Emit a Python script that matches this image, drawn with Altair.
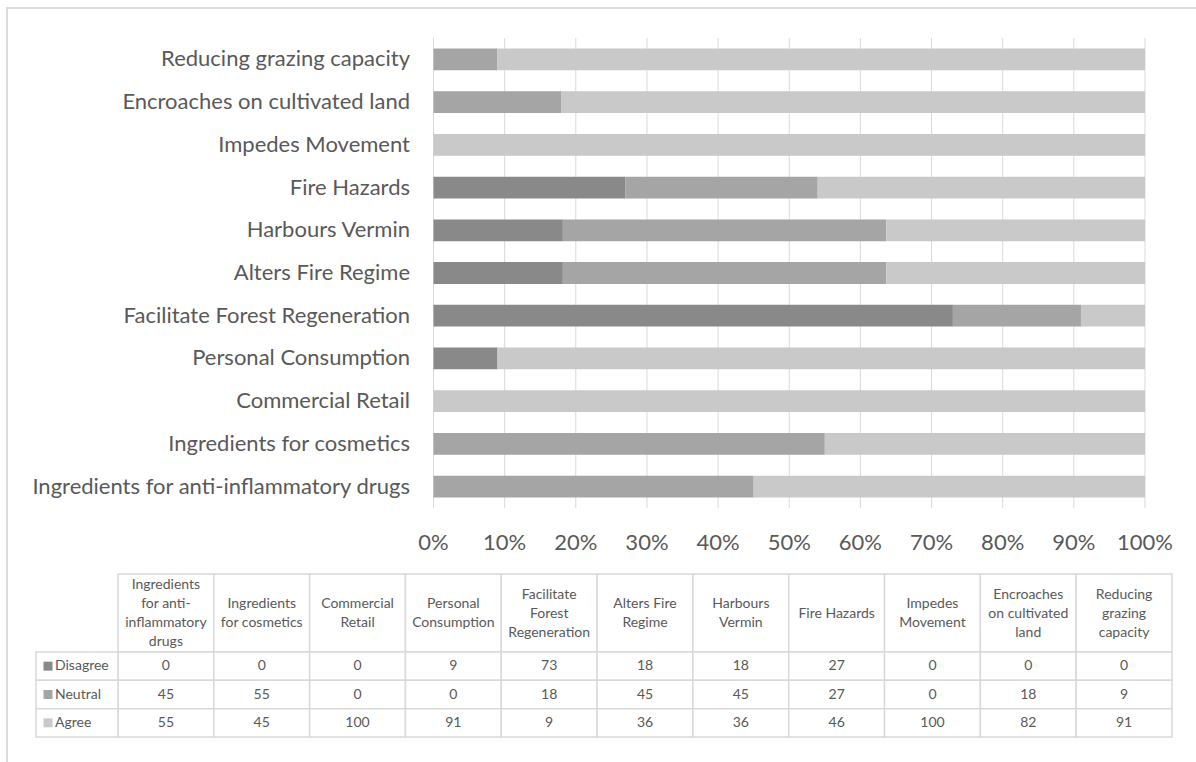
import altair as alt
import pandas as pd

# Survey statements (bottom-to-top order of the bars, left-to-right order of the table)
categories = [
    "Ingredients for anti-inflammatory drugs",
    "Ingredients for cosmetics",
    "Commercial Retail",
    "Personal Consumption",
    "Facilitate Forest Regeneration",
    "Alters Fire Regime",
    "Harbours Vermin",
    "Fire Hazards",
    "Impedes Movement",
    "Encroaches on cultivated land",
    "Reducing grazing capacity",
]

# Wrapped column headings for the data table
header_labels = [
    "Ingredients\nfor anti-\ninflammatory\ndrugs",
    "Ingredients\nfor cosmetics",
    "Commercial\nRetail",
    "Personal\nConsumption",
    "Facilitate\nForest\nRegeneration",
    "Alters Fire\nRegime",
    "Harbours\nVermin",
    "Fire Hazards",
    "Impedes\nMovement",
    "Encroaches\non cultivated\nland",
    "Reducing\ngrazing\ncapacity",
]

responses = ["Disagree", "Neutral", "Agree"]
disagree = [0, 0, 0, 9, 73, 18, 18, 27, 0, 0, 0]
neutral = [45, 55, 0, 0, 18, 45, 45, 27, 0, 18, 9]
agree = [55, 45, 100, 91, 9, 36, 36, 46, 100, 82, 91]

ticks = [0.0, 0.1, 0.2, 0.3, 0.4, 0.5, 0.6, 0.7, 0.8, 0.9, 1.0]

palette = ["#898989", "#a5a5a5", "#c9c9c9"]
FONT = "Lato"
TEXT = "#595959"
LINE = "#d9d9d9"

rows = []
for i, cat in enumerate(categories):
    for j, (resp, vals) in enumerate(zip(responses, [disagree, neutral, agree])):
        rows.append({"category": cat, "response": resp, "value": vals[i], "order": j})
df = pd.DataFrame(rows)
df_ticks = pd.DataFrame({"tick": ticks})
df_head = pd.DataFrame({"category": categories, "header": header_labels})
df_resp = pd.DataFrame({"response": responses})
df_one = pd.DataFrame({"k": [0]})

# One record per heading line, positioned relative to the middle of its block
head_lines = []
for cat, label in zip(categories, header_labels):
    parts = label.split("\n")
    for k, part in enumerate(parts):
        head_lines.append({"category": cat, "line": part,
                           "pos": k - (len(parts) - 1) / 2})
df_lines = pd.DataFrame(head_lines)

# Scales of the bar panel
top_down = list(reversed(categories))
x_scale = alt.Scale(domain=[0, 1], range=[433.5, 1145], nice=False, zero=True)
y_scale = alt.Scale(type="band", domain=top_down, range=[38, 508],
                    paddingInner=0.49, paddingOuter=0.245)
color_scale = alt.Scale(domain=responses, range=palette)

# Scales of the data table
col_scale = alt.Scale(type="band", domain=categories, range=[118, 1172],
                      paddingInner=0, paddingOuter=0)
row_scale = alt.Scale(type="band", domain=responses, range=[652, 737],
                      paddingInner=0, paddingOuter=0)
line_scale = alt.Scale(domain=[-2, 2], range=[575.5, 651.5], nice=False, zero=False)

frame_left = alt.Chart(df_one).mark_rule(color="#dcdcdc", strokeWidth=2).encode(
    x=alt.value(7), y=alt.value(7), y2=alt.value(762))
frame_top = alt.Chart(df_one).mark_rule(color="#dcdcdc", strokeWidth=2).encode(
    x=alt.value(6), x2=alt.value(1196), y=alt.value(8))

grid = alt.Chart(df_ticks).mark_rule(color=LINE, strokeWidth=1).encode(
    x=alt.X("tick:Q", scale=x_scale, axis=None),
    y=alt.value(38), y2=alt.value(508))

bars = alt.Chart(df).mark_bar().encode(
    y=alt.Y("category:N", sort=top_down, scale=y_scale, axis=None),
    x=alt.X("value:Q", stack="normalize", scale=x_scale, axis=None),
    color=alt.Color("response:N", scale=color_scale, legend=None),
    order=alt.Order("order:Q"),
)

y_labels = alt.Chart(df_head).mark_text(
    align="right", baseline="middle", font=FONT, fontSize=22, color=TEXT
).encode(
    x=alt.value(410),
    y=alt.Y("category:N", sort=top_down, scale=y_scale, axis=None),
    text="category:N",
)

x_labels = alt.Chart(df_ticks).mark_text(
    align="center", baseline="middle", font=FONT, fontSize=22, color=TEXT
).encode(
    x=alt.X("tick:Q", scale=x_scale, axis=None),
    y=alt.value(543),
    text=alt.Text("tick:Q", format=".0%"),
)

# Data table
head_cells = alt.Chart(df_head).mark_rect(fill="#ffffff", stroke=LINE, strokeWidth=1.5).encode(
    x=alt.X("category:N", scale=col_scale, axis=None),
    y=alt.value(574), y2=alt.value(652))
head_text = alt.Chart(df_lines).mark_text(
    align="center", baseline="middle", font=FONT, fontSize=14, color=TEXT
).encode(
    x=alt.X("category:N", scale=col_scale, axis=None),
    y=alt.Y("pos:Q", scale=line_scale, axis=None),
    text="line:N",
)

body_cells = alt.Chart(df).mark_rect(fill="#ffffff", stroke=LINE, strokeWidth=1.5).encode(
    x=alt.X("category:N", scale=col_scale, axis=None),
    y=alt.Y("response:N", scale=row_scale, axis=None))
body_text = alt.Chart(df).mark_text(
    align="center", baseline="middle", font=FONT, fontSize=14, color=TEXT
).encode(
    x=alt.X("category:N", scale=col_scale, axis=None),
    y=alt.Y("response:N", scale=row_scale, axis=None),
    text=alt.Text("value:Q", format="d"),
)

row_cells = alt.Chart(df_resp).mark_rect(fill="#ffffff", stroke=LINE, strokeWidth=1.5).encode(
    x=alt.value(36), x2=alt.value(118),
    y=alt.Y("response:N", scale=row_scale, axis=None))
row_keys = alt.Chart(df_resp).mark_square(size=81, opacity=1, filled=True).encode(
    x=alt.value(48),
    y=alt.Y("response:N", scale=row_scale, axis=None),
    color=alt.Color("response:N", scale=color_scale, legend=None))
row_text = alt.Chart(df_resp).mark_text(
    align="left", baseline="middle", font=FONT, fontSize=14, color=TEXT
).encode(
    x=alt.value(55),
    y=alt.Y("response:N", scale=row_scale, axis=None),
    text="response:N",
)

chart = alt.layer(
    frame_left, frame_top, grid, bars, y_labels, x_labels,
    head_cells, head_text, body_cells, row_cells, body_text, row_keys, row_text,
).resolve_scale(
    x="independent", y="independent", color="independent"
).properties(
    width=1196, height=762, padding=0, autosize=alt.AutoSizeParams(type="none"),
    background="#ffffff",
).configure_view(stroke=None)

chart.save("out.html", embed_options={"renderer": "svg", "actions": False})
